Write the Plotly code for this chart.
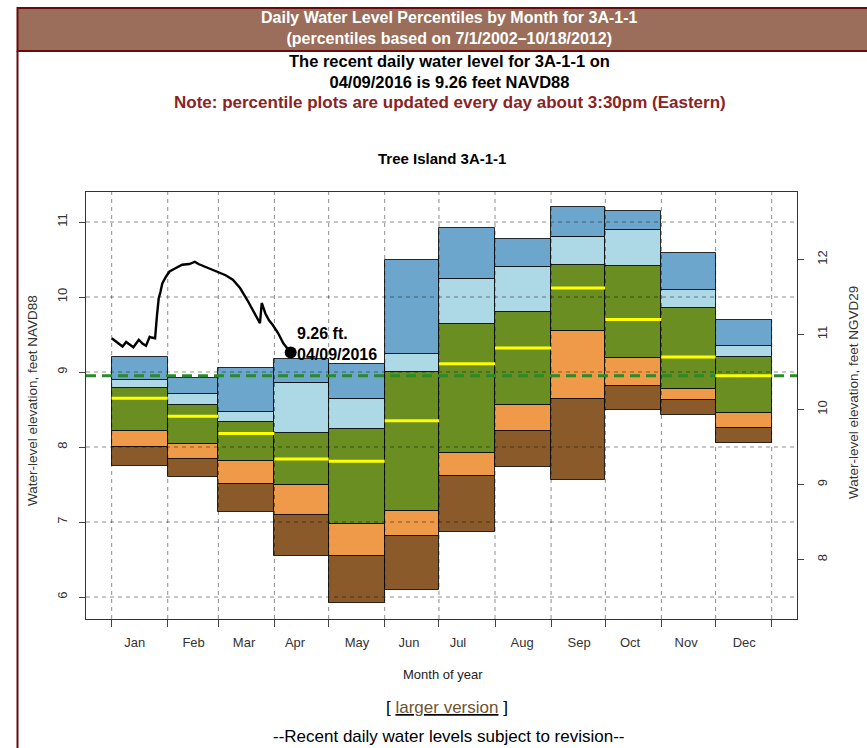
import plotly.graph_objects as go
import pandas as pd

# ---- monthly percentile statistics (feet NAVD88) ----
months = ["Jan", "Feb", "Mar", "Apr", "May", "Jun",
          "Jul", "Aug", "Sep", "Oct", "Nov", "Dec"]
month_edges = [0, 31, 59, 90, 120, 151, 181, 212, 243, 273, 304, 334, 365]
label_days = [12.7, 45.3, 73.2, 101.4, 135.7, 164.4, 191.5, 227.0, 258.5, 286.7, 317.7, 349.8]

p_min = [7.75, 7.60, 7.14, 6.55, 5.92, 6.09, 6.87, 7.73, 7.56, 8.50, 8.43, 8.06]
p10 = [8.00, 7.84, 7.51, 7.09, 6.55, 6.82, 7.62, 8.21, 8.64, 8.81, 8.63, 8.26]
p25 = [8.21, 8.04, 7.82, 7.49, 6.98, 7.15, 7.92, 8.56, 9.55, 9.19, 8.77, 8.45]
p50 = [8.65, 8.41, 8.18, 7.84, 7.81, 8.35, 9.11, 9.32, 10.12, 9.70, 9.20, 8.95]
p75 = [8.79, 8.56, 8.34, 8.19, 8.24, 9.00, 9.64, 9.80, 10.43, 10.42, 9.86, 9.20]
p90 = [8.89, 8.71, 8.47, 8.86, 8.64, 9.24, 10.24, 10.40, 10.80, 10.89, 10.09, 9.35]
p_max = [9.20, 8.92, 9.06, 9.17, 9.11, 10.50, 10.92, 10.78, 11.20, 11.15, 10.59, 9.69]

ref_level = 8.95          # dashed green reference elevation, NAVD88
datum_shift = 1.5         # NGVD29 = NAVD88 + shift

# ---- recent daily water levels (2016) ----
recent_dates = ["2016-01-01", "2016-01-04", "2016-01-07", "2016-01-09", "2016-01-11",
                "2016-01-13", "2016-01-16", "2016-01-18", "2016-01-20", "2016-01-22",
                "2016-01-23", "2016-01-25", "2016-01-26", "2016-01-27", "2016-01-28",
                "2016-01-29", "2016-01-31", "2016-02-02", "2016-02-05", "2016-02-09",
                "2016-02-13", "2016-02-16", "2016-02-18", "2016-02-22", "2016-02-28",
                "2016-03-04", "2016-03-08", "2016-03-12", "2016-03-16", "2016-03-19",
                "2016-03-23", "2016-03-24", "2016-03-26", "2016-03-28", "2016-03-30",
                "2016-04-02", "2016-04-05", "2016-04-09"]
recent_level = [9.45, 9.40, 9.34, 9.40, 9.36,
                9.33, 9.43, 9.38, 9.35, 9.47,
                9.46, 9.45, 9.74, 9.98, 10.07,
                10.18, 10.27, 10.34, 10.38, 10.43,
                10.44, 10.47, 10.44, 10.40, 10.35,
                10.29, 10.23, 10.12, 9.96, 9.83,
                9.65, 9.92, 9.78, 9.69, 9.63,
                9.52, 9.38, 9.26]

# ---- geometry ----
W, H = 867, 748
L, R, T, B = 86, 797, 192, 619
x_range = [-14.2, 379.0]
y_range = [5.707, 11.4]
FONT = "Liberation Sans, Arial, Helvetica, sans-serif"


def px(x):
    return (x - L) / (R - L)


def py(y):
    return (B - y) / (B - T)


starts = month_edges[:-1]
ends = month_edges[1:]
centers = [(a + b) / 2 for a, b in zip(starts, ends)]
widths = [b - a for a, b in zip(starts, ends)]

fig = go.Figure()

bands = [
    (p_min, p10, "#8b5a2b"),
    (p10, p25, "#ee9a49"),
    (p25, p75, "#6b8e23"),
    (p75, p90, "#add8e6"),
    (p90, p_max, "#6ca6cd"),
]
for lo, hi, col in bands:
    fig.add_trace(go.Bar(
        x=centers, width=widths, base=lo,
        y=[h - l for l, h in zip(lo, hi)],
        marker=dict(color=col, line=dict(color="rgba(0,0,0,0.8)", width=1)),
        hoverinfo="skip",
    ))

# dashed grid drawn over the bars
grid_col = "rgba(0,0,0,0.45)"
hx, hy = [], []
for v in range(6, 12):
    hx += [x_range[0], x_range[1], None]
    hy += [v, v, None]
fig.add_trace(go.Scatter(x=hx, y=hy, mode="lines",
                         line=dict(color=grid_col, width=1, dash="4px,4px"),
                         hoverinfo="skip"))
vx, vy = [], []
for d in month_edges:
    vx += [d, d, None]
    vy += [y_range[0], y_range[1], None]
fig.add_trace(go.Scatter(x=vx, y=vy, mode="lines",
                         line=dict(color=grid_col, width=1, dash="4px,4px"),
                         hoverinfo="skip"))

# medians
mx, my = [], []
for a, b, m in zip(starts, ends, p50):
    mx += [a, b, None]
    my += [m, m, None]
fig.add_trace(go.Scatter(x=mx, y=my, mode="lines", xaxis="x2",
                         line=dict(color="#ffff00", width=3), hoverinfo="skip"))

# reference elevation, plotted on the NGVD29 scale
fig.add_trace(go.Scatter(x=x_range, y=[ref_level + datum_shift] * 2, mode="lines",
                         yaxis="y2",
                         line=dict(color="#2a8a2a", width=3, dash="10px,6px"),
                         hoverinfo="skip"))

# recent daily levels
days = (pd.to_datetime(recent_dates) - pd.Timestamp("2016-01-01")).days
fig.add_trace(go.Scatter(x=list(days), y=recent_level, mode="lines",
                         line=dict(color="black", width=2.4), hoverinfo="skip"))
last_day = int(days[-1])
last_val = recent_level[-1]
last_date = pd.Timestamp(recent_dates[-1]).strftime("%m/%d/%Y")
fig.add_trace(go.Scatter(x=[last_day], y=[last_val], mode="markers",
                         marker=dict(color="black", size=12), hoverinfo="skip"))
fig.add_annotation(x=last_day, y=last_val, xref="x", yref="y",
                   text=f"<b>{last_val:.2f} ft.<br>{last_date}</b>",
                   showarrow=False, xanchor="left", yanchor="middle",
                   xshift=4, yshift=9, align="left",
                   font=dict(family=FONT, size=16, color="black"))

axis_font = dict(family=FONT, size=13, color="#333")
fig.update_layout(
    width=W, height=H,
    margin=dict(l=L, r=W - R, t=T, b=H - B),
    paper_bgcolor="white", plot_bgcolor="white",
    showlegend=False, barmode="overlay", bargap=0,
    xaxis=dict(range=x_range, tickvals=month_edges, ticktext=[""] * 13,
               ticks="outside", ticklen=7, tickcolor="#444", showgrid=False,
               zeroline=False, showline=True, mirror=True, linecolor="#333",
               linewidth=1),
    xaxis2=dict(range=x_range, overlaying="x", anchor="y", side="bottom",
                tickvals=label_days, ticktext=months, ticks="", showgrid=False,
                zeroline=False, showline=False, tickfont=axis_font,
                ticklabelstandoff=14),
    yaxis=dict(range=y_range, tickvals=list(range(6, 12)), tickangle=-90,
               ticks="outside", ticklen=6, tickcolor="#444", showgrid=False,
               zeroline=False, showline=True, mirror=True, linecolor="#333",
               linewidth=1, tickfont=axis_font, ticklabelstandoff=7),
    yaxis2=dict(range=[y_range[0] + datum_shift, y_range[1] + datum_shift],
                overlaying="y", side="right", anchor="x",
                tickvals=list(range(8, 13)), tickangle=-90, ticks="outside",
                ticklen=6, tickcolor="#444", showgrid=False, zeroline=False,
                showline=False, tickfont=axis_font, ticklabelstandoff=7),
)

# ---- page furniture ----
fig.add_shape(type="rect", xref="paper", yref="paper",
              x0=px(17.5), x1=px(880), y0=py(51), y1=py(8),
              fillcolor="#9a6e5a", line=dict(color="#6b0a0a", width=2),
              layer="below")
fig.add_shape(type="line", xref="paper", yref="paper",
              x0=px(17.5), x1=px(17.5), y0=py(51), y1=py(760),
              line=dict(color="#6b0a0a", width=2))


def text(x, y, s, size, color="black", bold=False, angle=0, anchor="center"):
    fig.add_annotation(x=px(x), y=py(y), xref="paper", yref="paper",
                       text=f"<b>{s}</b>" if bold else s, showarrow=False,
                       xanchor=anchor, yanchor="middle", textangle=angle,
                       borderpad=0,
                       font=dict(family=FONT, size=size, color=color))


text(449, 28.5, "Daily Water Level Percentiles by Month for 3A-1-1<br>"
     "(percentiles based on 7/1/2002\u201310/18/2012)", 16, "white", True)
text(449, 71.5, "The recent daily water level for 3A-1-1 on<br>"
     "04/09/2016 is 9.26 feet NAVD88", 16.5, "black", True)
text(450, 102, "Note: percentile plots are updated every day about 3:30pm (Eastern)",
     17, "#8b2323", True)
text(442, 159, "Tree Island 3A-1-1", 15, "black", True)
text(443, 674, "Month of year", 13, "#222")
text(32, 401, "Water-level elevation, feet NAVD88", 13.5, "#333", angle=-90)
text(853, 393, "Water-level elevation, feet NGVD29", 13.5, "#333", angle=-90)
text(447, 707, "[ <u><span style='color:#6e5530'>larger version</span></u> ]", 17, "black")
text(448, 737, "--Recent daily water levels subject to revision--", 17, "black")

fig.write_html("out.html")
